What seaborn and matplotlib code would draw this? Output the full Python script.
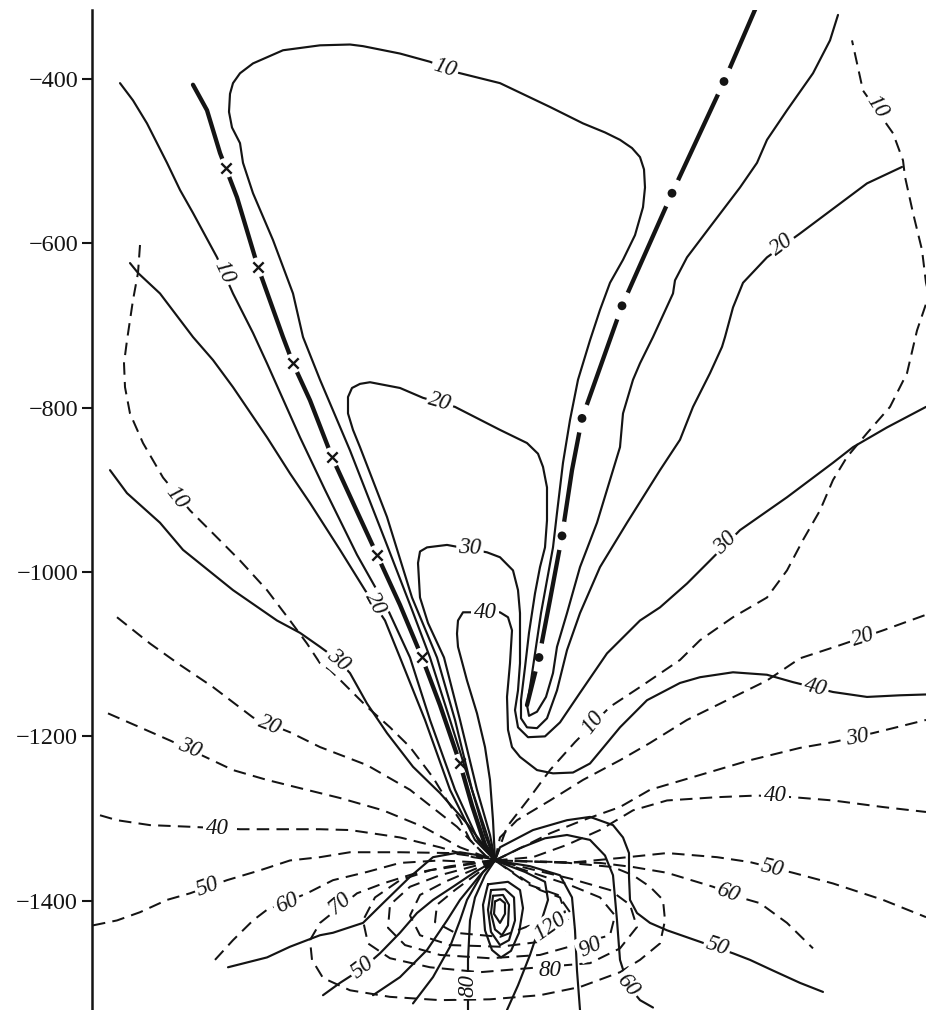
import matplotlib
matplotlib.use("Agg")
import matplotlib.pyplot as plt
import seaborn as sns

sns.set_style("white")
plt.rcParams["font.family"] = ["Liberation Serif", "DejaVu Serif"]
plt.rcParams["axes.unicode_minus"] = True

INK = "#141414"

# ---------------- axis ----------------
yticks = [-400, -600, -800, -1000, -1200, -1400]
x_range = (92, 926)
y_range = (-1533, -316)

# ---------------- thick zero lines ----------------
B_x = [193, 207, 220, 237, 258, 283, 293, 310, 332, 355, 377, 400, 422, 440, 460, 472, 485, 495]
B_y = [-407, -438, -490, -544, -629, -714, -746, -791, -860, -921, -979, -1040, -1104, -1162, -1233, -1284, -1332, -1351]
Bmark_x = [226, 258, 293, 332, 377, 422, 460]
Bmark_y = [-508, -629, -746, -860, -979, -1104, -1233]

DD_x = [757, 724, 672, 622, 582, 572, 562, 550, 539, 527]
DD_y = [-310, -403, -539, -676, -813, -876, -956, -1034, -1104, -1162]
DDdot_x = [724, 672, 622, 582, 562, 539]
DDdot_y = [-403, -539, -676, -813, -956, -1104]

# ---------------- solid contours ----------------
S1_x = [120, 133, 147, 167, 180, 193, 217, 233, 253, 267, 300, 325, 357, 388, 410, 430, 455, 478, 495]
S1_y = [-405, -426, -454, -502, -535, -563, -617, -661, -709, -746, -836, -900, -979, -1046, -1104, -1180, -1265, -1326, -1351]

S2_x = [130, 138, 160, 193, 213, 233, 267, 290, 310, 340, 365, 385, 400, 425, 450, 475, 495]
S2_y = [-624, -636, -661, -714, -742, -775, -836, -880, -916, -973, -1022, -1059, -1104, -1180, -1265, -1326, -1351]

S3_x = [110, 127, 160, 183, 233, 277, 300, 320, 338, 350, 367, 387, 413, 440, 467, 487, 495]
S3_y = [-876, -904, -940, -973, -1022, -1059, -1074, -1091, -1107, -1123, -1160, -1196, -1237, -1269, -1306, -1338, -1351]

L10_x = [495, 485, 472, 450, 430, 412, 385, 350, 320, 303, 293, 273, 253, 243, 240, 232, 229, 230, 233, 240, 253, 283,
         320, 350, 363, 400, 430, 457, 500, 550, 583, 605, 620, 632, 640, 644, 645, 643, 635, 623, 610, 600, 590, 578, 570,
         563, 557, 553, 547, 541, 536, 531, 527, 529, 537, 546, 553, 557, 567, 580, 597, 610, 620, 623, 633,
         640, 653, 673, 675, 687, 710, 740, 757, 767, 787, 813, 830, 838]
L10_y = [-1351, -1320, -1265, -1180, -1104, -1046, -961, -852, -766, -714, -661, -596, -539, -502, -478, -459, -440, -418, -405, -393, -381, -365,
         -359, -358, -360, -369, -379, -392, -405, -434, -454, -465, -474, -484, -495, -510, -532, -556, -590, -620, -648, -681, -718, -766, -815,
         -867, -928, -970, -1010, -1050, -1091, -1132, -1162, -1175, -1170, -1152, -1123, -1091, -1050, -994, -940, -888, -848, -807, -766,
         -746, -714, -661, -645, -617, -580, -532, -502, -474, -438, -393, -353, -322]

L20_x = [495, 487, 472, 455, 437, 412, 387, 360, 353, 348, 348, 352, 360, 370, 400, 423, 455, 500, 527, 538, 543, 547, 547,
         545, 540, 535, 529, 525, 521, 521, 527, 537, 547, 557, 567, 580, 600, 627, 660, 680, 693, 710, 722,
         725, 733, 743, 767, 800, 867, 902]
L20_y = [-1351, -1320, -1265, -1180, -1104, -1031, -933, -848, -827, -807, -787, -776, -771, -769, -776, -788, -799, -827, -843, -856, -872, -897, -937,
         -970, -994, -1026, -1074, -1116, -1156, -1178, -1189, -1190, -1178, -1144, -1095, -1050, -994, -940, -876, -839, -799, -758, -726,
         -714, -678, -648, -617, -588, -527, -507]

L30_x = [495, 490, 477, 460, 444, 428, 420, 418, 420, 427, 447, 487, 500, 513, 518, 520, 520, 518, 515, 518, 528,
         545, 560, 580, 607, 640, 660, 687, 710, 740, 787, 833, 853, 887, 926]
L30_y = [-1351, -1320, -1265, -1180, -1104, -1062, -1031, -989, -975, -970, -967, -976, -982, -998, -1022, -1050, -1111, -1144, -1168, -1189, -1201,
         -1200, -1183, -1147, -1099, -1059, -1043, -1014, -986, -949, -909, -867, -848, -824, -799]

L40_x = [495, 493, 490, 485, 477, 467, 458, 457, 458, 463, 500, 508, 512, 510, 507, 508, 512, 520, 537, 553, 573,
         590, 603, 620, 647, 680, 700, 733, 767, 793, 833, 867, 900, 926]
L40_y = [-1351, -1302, -1253, -1213, -1172, -1132, -1091, -1075, -1059, -1049, -1049, -1055, -1071, -1111, -1152, -1192, -1213, -1225, -1241, -1245, -1244,
         -1233, -1214, -1189, -1156, -1135, -1128, -1122, -1125, -1134, -1146, -1152, -1150, -1149]

F1_x = [228, 267, 290, 320, 333, 363, 383, 410, 433, 460, 480, 495]
F1_y = [-1481, -1469, -1456, -1442, -1439, -1427, -1403, -1371, -1347, -1341, -1345, -1351]
F2_x = [323, 340, 363, 380, 400, 417, 433, 453, 475, 495]
F2_y = [-1515, -1500, -1482, -1464, -1439, -1415, -1399, -1383, -1365, -1351]
F3_x = [373, 400, 427, 447, 460, 480, 495]
F3_y = [-1515, -1493, -1460, -1424, -1399, -1369, -1351]
F4_x = [413, 433, 450, 460, 467, 483, 495]
F4_y = [-1525, -1493, -1456, -1424, -1399, -1365, -1351]
F5_x = [468, 468, 470, 475, 485, 495]
F5_y = [-1533, -1472, -1424, -1396, -1369, -1351]
F6_x = [495, 525, 545, 548, 540, 530, 518, 507]
F6_y = [-1351, -1365, -1377, -1399, -1430, -1466, -1503, -1533]
F7_x = [495, 530, 560, 572, 575, 577, 580]
F7_y = [-1351, -1358, -1369, -1396, -1436, -1485, -1533]
F8_x = [495, 520, 545, 567, 590, 605, 613, 617, 620, 628, 640, 653]
F8_y = [-1351, -1336, -1324, -1320, -1326, -1345, -1369, -1424, -1472, -1503, -1521, -1530]
F9_x = [495, 500, 533, 567, 590, 613, 623, 629, 629, 630, 637, 650, 667, 700, 733, 750, 773, 800, 823]
F9_y = [-1351, -1335, -1314, -1302, -1298, -1308, -1323, -1342, -1371, -1399, -1415, -1427, -1436, -1450, -1464, -1472, -1485, -1500, -1511]

T1_x = [488, 483, 485, 492, 501, 511, 519, 523, 520, 508, 488]
T1_y = [-1380, -1405, -1436, -1460, -1469, -1461, -1439, -1409, -1387, -1377, -1380]
T2_x = [491, 488, 491, 500, 509, 515, 514, 505, 491]
T2_y = [-1387, -1411, -1438, -1454, -1448, -1424, -1396, -1386, -1387]
T3_x = [493, 491, 495, 502, 508, 509, 503, 493]
T3_y = [-1394, -1415, -1435, -1442, -1430, -1405, -1393, -1394]
T4_x = [495, 494, 500, 505, 505, 500, 495]
T4_y = [-1401, -1416, -1427, -1416, -1403, -1398, -1401]

# ---------------- dashed contours ----------------
DL10_x = [140, 138, 133, 127, 124, 125, 130, 143, 163, 190, 213, 240, 267, 290, 307, 320, 330, 367, 390, 410,
          433, 447, 460, 470, 487, 495]
DL10_y = [-602, -636, -669, -718, -746, -775, -807, -843, -885, -925, -953, -986, -1022, -1059, -1087, -1111, -1119, -1164, -1189, -1213,
          -1250, -1278, -1302, -1326, -1347, -1351]
DL20_x = [117, 150, 180, 213, 253, 290, 320, 367, 410, 457, 485, 495]
DL20_y = [-1055, -1087, -1113, -1140, -1177, -1195, -1213, -1235, -1265, -1310, -1345, -1351]
DL30_x = [108, 140, 170, 207, 233, 267, 300, 340, 383, 423, 460, 495]
DL30_y = [-1172, -1189, -1205, -1226, -1241, -1253, -1263, -1275, -1290, -1310, -1335, -1351]
DL40_x = [100, 117, 150, 190, 240, 320, 350, 400, 440, 473, 495]
DL40_y = [-1296, -1302, -1308, -1310, -1313, -1313, -1314, -1323, -1335, -1347, -1351]
DL50_x = [93, 117, 140, 167, 190, 227, 260, 290, 320, 350, 400, 450, 487, 495]
DL50_y = [-1430, -1424, -1414, -1399, -1391, -1375, -1363, -1351, -1347, -1341, -1341, -1342, -1348, -1351]
DL60_x = [215, 233, 253, 267, 307, 333, 367, 400, 440, 473, 495]
DL60_y = [-1472, -1448, -1424, -1411, -1391, -1375, -1365, -1354, -1351, -1353, -1351]

D70_x = [495, 450, 417, 383, 357, 320, 310, 312, 323, 350, 390, 440, 490, 540, 580, 620, 640, 660, 665, 663,
         650, 633, 613, 560, 495]
D70_y = [-1351, -1358, -1366, -1379, -1391, -1427, -1448, -1472, -1494, -1509, -1517, -1521, -1520, -1515, -1505, -1487, -1472, -1452, -1424, -1399,
         -1383, -1369, -1359, -1353, -1351]
D80_x = [495, 430, 400, 375, 363, 368, 390, 430, 480, 590, 620, 637, 630, 610, 570, 495]
D80_y = [-1351, -1363, -1375, -1396, -1424, -1452, -1470, -1481, -1487, -1476, -1458, -1432, -1405, -1387, -1373, -1351]
D90_x = [495, 440, 410, 390, 388, 405, 440, 490, 540, 610, 615, 600, 570, 495]
D90_y = [-1351, -1369, -1383, -1405, -1433, -1454, -1466, -1470, -1466, -1442, -1418, -1396, -1381, -1351]
D100_x = [495, 445, 420, 410, 420, 450, 500, 540, 565, 570, 558, 530, 495]
D100_y = [-1351, -1377, -1393, -1418, -1442, -1454, -1456, -1450, -1436, -1414, -1393, -1381, -1351]
D120_x = [495, 455, 437, 435, 455, 500, 565, 560, 540, 495]
D120_y = [-1351, -1387, -1405, -1426, -1439, -1444, -1414, -1396, -1387, -1351]

DR10_x = [495, 507, 530, 550, 575, 610, 640, 680, 700, 733, 767, 787, 803, 820, 833, 847, 867, 890, 907, 917,
          929, 926, 922, 913, 905, 903, 893, 863, 852]
DR10_y = [-1351, -1310, -1274, -1241, -1207, -1164, -1140, -1107, -1083, -1055, -1031, -998, -961, -925, -888, -860, -831, -799, -758, -706,
          -663, -648, -608, -563, -519, -499, -466, -414, -353]
DR20_x = [495, 500, 517, 550, 583, 620, 650, 687, 727, 767, 800, 840, 883, 926]
DR20_y = [-1351, -1323, -1302, -1278, -1253, -1229, -1208, -1180, -1156, -1132, -1105, -1089, -1071, -1052]
DR30_x = [495, 517, 550, 583, 620, 650, 700, 750, 800, 833, 873, 893, 926]
DR30_y = [-1351, -1338, -1318, -1302, -1286, -1265, -1247, -1229, -1214, -1207, -1196, -1190, -1180]
DR40_x = [495, 533, 567, 600, 633, 667, 717, 757, 793, 833, 883, 926]
DR40_y = [-1351, -1347, -1332, -1314, -1290, -1278, -1274, -1272, -1274, -1278, -1286, -1292]
DR50_x = [495, 567, 620, 667, 717, 750, 793, 833, 883, 926]
DR50_y = [-1351, -1354, -1348, -1342, -1347, -1353, -1366, -1379, -1399, -1420]
DR60_x = [495, 560, 600, 633, 667, 713, 740, 760, 787, 813]
DR60_y = [-1351, -1353, -1354, -1359, -1366, -1383, -1396, -1403, -1427, -1458]

# ---------------- contour labels ----------------
lab_x = [224, 445, 440, 375, 782, 470, 338, 725, 485, 815, 363, 468, 628, 717,
         877, 177, 593, 270, 863, 190, 857, 217, 775, 208, 772, 287, 728, 340, 550, 590, 550]
lab_y = [-635, -387, -793, -1038, -602, -971, -1107, -965, -1049, -1141, -1482, -1503, -1503, -1456,
         -434, -909, -1183, -1186, -1079, -1214, -1202, -1312, -1272, -1383, -1360, -1403, -1390, -1403, -1485, -1456, -1432]
lab_text = ["10", "10", "20", "20", "20", "30", "30", "30", "40", "40", "50", "80", "60", "50",
            "10", "10", "10", "20", "20", "30", "30", "40", "40", "50", "50", "60", "60", "70", "80", "90", "120"]
lab_rot = [-65, -17, -16, -62, 37, -2, -40, 45, 0, -14, 37, 90, -50, -18,
           -57, -52, 52, -22, 18, -22, 10, 0, 0, 20, -13, 25, -20, 40, 0, 25, 35]

# ---------------- figure ----------------
fig = plt.figure(figsize=(9.26, 10.10), dpi=100)
ax = fig.add_axes([92 / 926, 0.0, 834 / 926, 1000 / 1010])


def draw(x, y, lw=1.5, ls="-", z=4):
    sns.lineplot(x=x, y=y, sort=False, estimator=None, color=INK, linewidth=lw,
                 linestyle=ls, ax=ax, zorder=z, legend=False,
                 solid_joinstyle="round", solid_capstyle="round")


# thick zero lines with gaps around their markers
draw(B_x, B_y, lw=3.1, z=2)
draw(DD_x, DD_y, lw=3.1, z=2)
sns.scatterplot(x=Bmark_x, y=Bmark_y, s=200, color="white", edgecolor="none", ax=ax, zorder=2.5, legend=False)
sns.scatterplot(x=DDdot_x, y=DDdot_y, s=430, color="white", edgecolor="none", ax=ax, zorder=2.5, legend=False)
sns.scatterplot(x=Bmark_x, y=Bmark_y, s=55, marker="x", color=INK, linewidth=1.7, ax=ax, zorder=3, legend=False)
sns.scatterplot(x=DDdot_x, y=DDdot_y, s=40, color=INK, edgecolor="none", ax=ax, zorder=3, legend=False)

solid_lines = [(S1_x, S1_y), (S2_x, S2_y), (S3_x, S3_y), (L10_x, L10_y), (L20_x, L20_y),
               (L30_x, L30_y), (L40_x, L40_y), (F1_x, F1_y), (F2_x, F2_y), (F3_x, F3_y),
               (F4_x, F4_y), (F5_x, F5_y), (F6_x, F6_y), (F7_x, F7_y), (F8_x, F8_y), (F9_x, F9_y),
               (T1_x, T1_y), (T2_x, T2_y), (T3_x, T3_y), (T4_x, T4_y)]
for xs, ys in solid_lines:
    draw(xs, ys, lw=1.55)

dash = (0, (6.2, 3.6))
dashed_lines = [(DL10_x, DL10_y), (DL20_x, DL20_y), (DL30_x, DL30_y), (DL40_x, DL40_y),
                (DL50_x, DL50_y), (DL60_x, DL60_y), (D70_x, D70_y), (D80_x, D80_y),
                (D90_x, D90_y), (D100_x, D100_y), (D120_x, D120_y), (DR10_x, DR10_y),
                (DR20_x, DR20_y), (DR30_x, DR30_y), (DR40_x, DR40_y), (DR50_x, DR50_y),
                (DR60_x, DR60_y)]
for xs, ys in dashed_lines:
    draw(xs, ys, lw=1.45, ls=dash)

for x, y, s, r in zip(lab_x, lab_y, lab_text, lab_rot):
    ax.text(x, y, s, rotation=r, rotation_mode="anchor", ha="center", va="center",
            fontsize=16.5, fontstyle="italic", color=INK, zorder=6,
            bbox=dict(boxstyle="square,pad=0.1", fc="white", ec="none"))

ax.set_xlim(*x_range)
ax.set_ylim(*y_range)
ax.set_yticks(yticks)
ax.set_xticks([])
ax.set_xlabel("")
ax.set_ylabel("")
for side in ["top", "right", "bottom"]:
    ax.spines[side].set_visible(False)
ax.spines["left"].set_linewidth(1.8)
ax.spines["left"].set_color(INK)
ax.tick_params(axis="y", direction="out", length=7, width=1.5, pad=3,
               labelsize=17.5, colors=INK, left=True)

fig.savefig("out.png", dpi=100, facecolor="white")
